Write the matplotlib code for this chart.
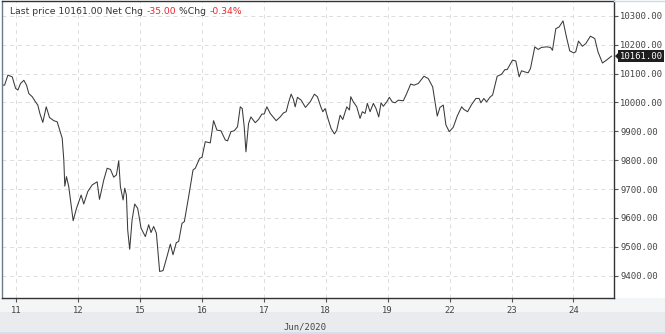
import matplotlib
matplotlib.use("Agg")
import matplotlib.pyplot as plt
from matplotlib.patches import Rectangle, Polygon
from matplotlib.lines import Line2D

# Position in trading-day units (0 = Jun 11 tick), and price values
t = [-0.226, -0.189, -0.135, -0.065, -0.011, 0.026, 0.069, 0.123, 0.166, 0.203,
     0.258, 0.311, 0.348, 0.381, 0.429, 0.484, 0.537, 0.606, 0.661, 0.742,
     0.768, 0.784, 0.811, 0.848, 0.919, 0.973, 1.048, 1.090, 1.155, 1.226,
     1.306, 1.344, 1.413, 1.468, 1.521, 1.574, 1.618, 1.655, 1.682, 1.726,
     1.752, 1.779, 1.800, 1.832, 1.871, 1.913, 1.961, 2.016, 2.085, 2.139,
     2.177, 2.219, 2.263, 2.316, 2.371, 2.435, 2.489, 2.532, 2.585, 2.623,
     2.677, 2.715, 2.784, 2.855, 2.892, 2.961, 3.000, 3.053, 3.134, 3.187,
     3.242, 3.306, 3.376, 3.413, 3.468, 3.521, 3.574, 3.618, 3.650, 3.682,
     3.710, 3.752, 3.790, 3.860, 3.913, 3.968, 4.005, 4.048, 4.102, 4.198,
     4.263, 4.316, 4.360, 4.397, 4.440, 4.477, 4.505, 4.542, 4.602, 4.671,
     4.747, 4.816, 4.865, 4.919, 4.952, 4.989, 5.042, 5.085, 5.139, 5.177,
     5.231, 5.274, 5.339, 5.381, 5.403, 5.445, 5.500, 5.553, 5.590, 5.634,
     5.671, 5.715, 5.768, 5.811, 5.855, 5.892, 5.929, 5.984, 6.026, 6.074,
     6.118, 6.171, 6.252, 6.306, 6.371, 6.424, 6.494, 6.585, 6.655, 6.726,
     6.800, 6.844, 6.897, 6.940, 6.994, 7.058, 7.123, 7.194, 7.231, 7.290,
     7.355, 7.424, 7.477, 7.505, 7.553, 7.597, 7.650, 7.694, 7.768, 7.839,
     7.892, 7.929, 8.016, 8.069, 8.123, 8.161, 8.215, 8.268, 8.306, 8.376,
     8.429, 8.484, 8.565, 8.629, 8.661, 8.715, 8.768, 8.832, 8.887, 8.940,
     9.005, 9.037, 9.081, 9.145, 9.198, 9.274, 9.344, 9.397, 9.469, 9.534,
     9.615]
price = [10060, 10060, 10095, 10089, 10049, 10043, 10066, 10077, 10060, 10031,
         10020, 10002, 9991, 9962, 9931, 9985, 9948, 9937, 9933, 9876,
         9800, 9710, 9743, 9708, 9590, 9633, 9679, 9648, 9691, 9714,
         9725, 9664, 9731, 9772, 9768, 9741, 9749, 9798, 9708, 9662,
         9703, 9679, 9558, 9491, 9593, 9648, 9633, 9564, 9535, 9576,
         9549, 9570, 9547, 9414, 9417, 9466, 9509, 9472, 9514, 9518,
         9581, 9587, 9673, 9766, 9772, 9806, 9810, 9864, 9860, 9937,
         9904, 9902, 9870, 9867, 9899, 9902, 9916, 9985, 9979, 9916,
         9829, 9927, 9950, 9930, 9941, 9960, 9960, 9985, 9962, 9937,
         9950, 9964, 9968, 9999, 10029, 10011, 9985, 10018, 10008, 9983,
         10002, 10029, 10020, 9985, 9968, 9979, 9939, 9910, 9891, 9904,
         9956, 9941, 9985, 9974, 10020, 10002, 9985, 9945, 9968, 9962,
         9997, 9968, 9997, 9979, 9950, 9999, 9987, 10002, 10018, 10002,
         9999, 10008, 10006, 10031, 10064, 10060, 10066, 10091, 10083, 10054,
         9953, 9983, 9991, 9922, 9899, 9914, 9953, 9985, 9976, 9968,
         9993, 10014, 10014, 9999, 10014, 10002, 10018, 10026, 10091, 10098,
         10114, 10114, 10147, 10144, 10089, 10110, 10106, 10103, 10118, 10193,
         10184, 10191, 10193, 10191, 10181, 10256, 10262, 10283, 10227, 10179,
         10172, 10176, 10213, 10195, 10204, 10230, 10222, 10175, 10137, 10147,
         10161]

x_ticklabels = ['11', '12', '15', '16', '17', '18', '19', '22', '23', '24']
y_ticks = [9400, 9500, 9600, 9700, 9800, 9900, 10000, 10100, 10200, 10300]
last_price = 10161.00
net_chg = -35.00
pct_chg = -0.34
month_label = 'Jun/2020'

W, H = 665, 334
fig = plt.figure(figsize=(W / 100, H / 100), dpi=100)
fig.patch.set_facecolor('white')

# bottom bands
fig.add_artist(Rectangle((0, 0), 1, (H - 298) / H, transform=fig.transFigure,
                         facecolor='#f4f5f6', edgecolor='none', zorder=0))
fig.add_artist(Rectangle((0, 2 / H), 1, (332 - 312) / H, transform=fig.transFigure,
                         facecolor='#e9ebee', edgecolor='none', zorder=0))
fig.add_artist(Line2D([0, 1], [1.0 / H, 1.0 / H], transform=fig.transFigure,
                      color='#c9ddef', lw=1.2))
fig.add_artist(Line2D([614 / W, 1], [1 - 0.5 / H, 1 - 0.5 / H], transform=fig.transFigure,
                      color='#c9ddef', lw=1.0))

ax = fig.add_axes([1.5 / W, 1 - 298 / H, (614 - 1.5) / W, (298 - 1) / H])
ax.plot(t, price, color='#3a3a3a', lw=0.75)

ax.set_xlim(-0.2385, 9.655)
ax.set_ylim(9322, 10352)

ax.set_xticks(range(len(x_ticklabels)))
ax.set_xticklabels(x_ticklabels)
ax.set_yticks(y_ticks)
ax.set_yticklabels([f'{v:.2f}' for v in y_ticks])
ax.yaxis.tick_right()

mono = 'DejaVu Sans Mono'
for lab in ax.get_xticklabels() + ax.get_yticklabels():
    lab.set_fontfamily(mono)
    lab.set_fontsize(6.4)
    lab.set_color('#444444')
ax.tick_params(axis='both', length=3, width=0.8, color='#555555', pad=1.5)
ax.tick_params(axis='x', pad=3)

ax.grid(True, color='#dcdcdc', lw=0.7, linestyle=(0, (4, 4)))
for s in ax.spines.values():
    s.set_color('#333333')
    s.set_linewidth(1.0)
ax.spines['left'].set_color('#6a7a8a')

# header
hx, hy = 10.5 / W, 1 - 12 / H
txt_kw = dict(fontsize=6.7, va='center', fontfamily='DejaVu Sans')
parts = [(f'Last price {last_price:.2f} Net Chg ', '#333333'),
         (f'{net_chg:.2f}', '#e8262b'),
         (' %Chg ', '#333333'),
         (f'{pct_chg:.2f}%', '#e8262b')]
fig.canvas.draw()
r = fig.canvas.get_renderer()
x = hx
for s, c in parts:
    tx = fig.text(x, hy, s, color=c, **txt_kw)
    bb = tx.get_window_extent(renderer=r)
    x += bb.width / W

# last price tag
ax.annotate(f'{last_price:.2f}', xy=(1.0, last_price), xycoords=('axes fraction', 'data'),
            xytext=(4, 0), textcoords='offset points', va='center', ha='left',
            fontsize=6.4, fontfamily=mono, color='white',
            bbox=dict(boxstyle='square,pad=0.15', facecolor='#1e1e1e', edgecolor='none'))
yfig = ax.transData.transform((0, last_price))[1]
px = ax.transAxes.transform((1, 0))[0]
tri = Polygon([[px + 1, yfig], [px + 5, yfig + 4], [px + 5, yfig - 4]], closed=True,
              transform=None, facecolor='#1e1e1e', edgecolor='none')
fig.add_artist(tri)

fig.text(305 / W, 1 - 327 / H, month_label, fontsize=6.4, fontfamily=mono,
         color='#444444', ha='center', va='center')

fig.savefig('out.png', dpi=100, facecolor=fig.get_facecolor())
